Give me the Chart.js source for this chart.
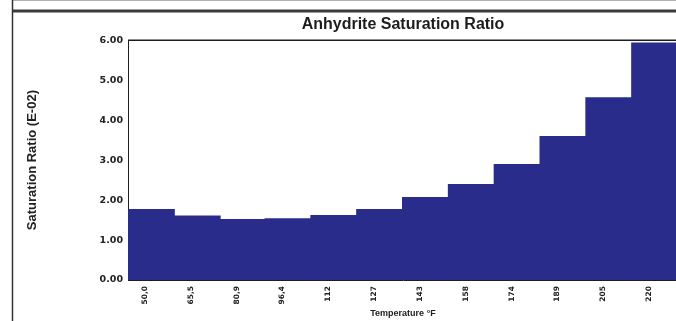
<!DOCTYPE html>
<html>
<head>
<meta charset="utf-8">
<style>
  html, body { margin: 0; padding: 0; background: #ffffff; overflow: hidden; }
  #wrap { width: 676px; height: 321px; overflow: hidden; position: relative; }
  canvas { display: block; }
</style>
<script src="https://cdn.jsdelivr.net/npm/chart.js@4.4.1/dist/chart.umd.min.js"></script>
</head>
<body>
<div id="wrap"><canvas id="c" width="806" height="321"></canvas></div>
<script>
// Temperature steps (°F) and anhydrite saturation ratio (x1E-02) at each step
const temperatures = ['50,0', '65,5', '80,9', '96,4', '112', '127', '143', '158', '174', '189', '205', '220'];
const saturationRatio = [1.75, 1.59, 1.50, 1.52, 1.60, 1.75, 2.05, 2.38, 2.88, 3.58, 4.55, 5.92];
const yTicks = [0, 1, 2, 3, 4, 5, 6];

const chartTitle = 'Anhydrite Saturation Ratio';
const yTitle = 'Saturation Ratio (E-02)';
const xTitle = 'Temperature °F';

// Page frame lines and the top edge of the plot box
const framePlugin = {
  id: 'frame',
  beforeDraw(chart) {
    const ctx = chart.ctx;
    ctx.save();
    ctx.strokeStyle = '#b0b0b0';
    ctx.lineWidth = 1;
    ctx.beginPath();
    ctx.moveTo(12, 0.5);
    ctx.lineTo(chart.width, 0.5);
    ctx.stroke();

    ctx.strokeStyle = '#3c3c3c';
    ctx.lineWidth = 3;
    ctx.beginPath();
    ctx.moveTo(12, 11);
    ctx.lineTo(chart.width, 11);
    ctx.stroke();

    ctx.strokeStyle = '#333333';
    ctx.lineWidth = 1.5;
    ctx.beginPath();
    ctx.moveTo(12.5, 0);
    ctx.lineTo(12.5, chart.height);
    ctx.stroke();
    ctx.restore();
  },
  afterDraw(chart) {
    const ctx = chart.ctx;
    const a = chart.chartArea;
    ctx.save();
    ctx.strokeStyle = '#1e1e1e';
    ctx.lineWidth = 1.5;
    ctx.beginPath();
    ctx.moveTo(a.left, a.top);
    ctx.lineTo(a.right + 2, a.top);
    ctx.stroke();
    ctx.restore();
  }
};

new Chart(document.getElementById('c'), {
  type: 'bar',
  data: {
    labels: temperatures,
    datasets: [{
      data: saturationRatio,
      xAxisID: 'x',
      yAxisID: 'y',
      backgroundColor: '#2a2c8c',
      borderWidth: 0,
      inflateAmount: 1,
      barPercentage: 1,
      categoryPercentage: 1
    }]
  },
  options: {
    responsive: false,
    animation: false,
    devicePixelRatio: 1,
    layout: { padding: 0 },
    plugins: {
      legend: { display: false },
      tooltip: { enabled: false },
      title: {
        display: true,
        text: chartTitle,
        color: '#1c1c1c',
        font: { family: 'Liberation Sans', size: 16, weight: 'bold' },
        padding: { top: 15, bottom: 6 }
      }
    },
    scales: {
      y: {
        position: 'left',
        min: 0,
        max: 6,
        afterBuildTicks(scale) {
          scale.ticks = yTicks.map(v => ({ value: v }));
        },
        afterFit(scale) { scale.width = 128; },
        grid: { display: false, drawTicks: false },
        border: { display: true, color: '#1e1e1e', width: 1 },
        ticks: {
          padding: 5,
          color: '#222222',
          font: { family: 'DejaVu Sans', size: 9.5, weight: 'bold' },
          callback: v => v.toFixed(2)
        },
        title: {
          display: true,
          text: yTitle,
          color: '#222222',
          font: { family: 'Liberation Sans', size: 13, weight: 'bold' },
          padding: { top: 25, bottom: 0 }
        }
      },
      yR: {
        position: 'right',
        display: true,
        min: 0,
        max: 6,
        afterFit(scale) { scale.width = 128; },
        grid: { display: false, drawTicks: false },
        border: { display: false },
        ticks: { display: false }
      },
      x: {
        position: 'bottom',
        afterFit(scale) { scale.height = 41; },
        grid: { display: false, drawTicks: false },
        border: { display: true, color: '#1e1e1e', width: 1 },
        ticks: {
          minRotation: 90,
          maxRotation: 90,
          autoSkip: false,
          padding: 6,
          labelOffset: -6,
          color: '#222222',
          font: { family: 'DejaVu Sans', size: 7.5, weight: 'bold' }
        },
        title: {
          display: true,
          text: xTitle,
          color: '#222222',
          font: { family: 'Liberation Sans', size: 9, weight: 'bold' },
          padding: { top: 0, bottom: 2 }
        }
      }
    }
  },
  plugins: [framePlugin]
});
</script>
</body>
</html>
